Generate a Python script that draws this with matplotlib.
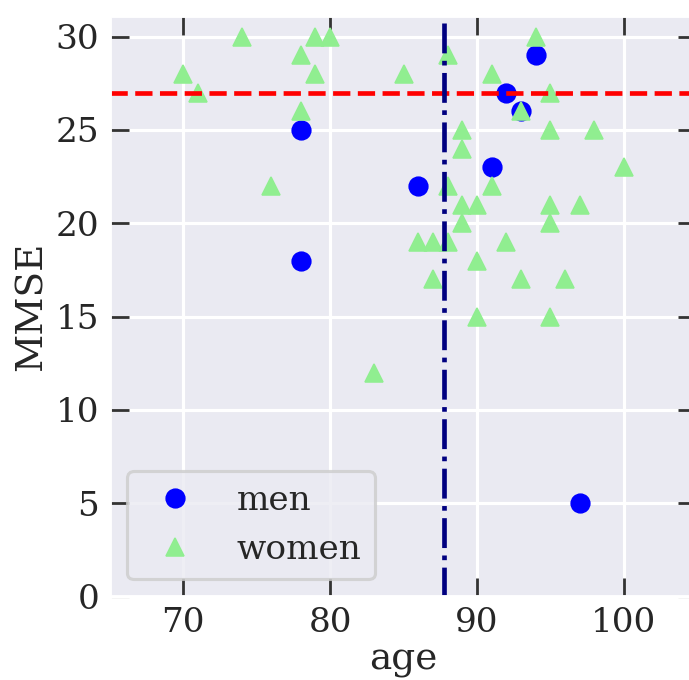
import matplotlib
matplotlib.use("Agg")
import matplotlib.pyplot as plt
import seaborn as sns

# MMSE score versus age, split by sex
men_age = [78, 78, 86, 91, 92, 93, 94, 97]
men_mmse = [25, 18, 22, 23, 27, 26, 29, 5]

women_age = [70, 71, 74, 76, 78, 78, 79, 79, 80, 83, 85, 86, 87, 87, 88, 88, 88,
             89, 89, 89, 89, 90, 90, 90, 91, 91, 92, 93, 93, 94, 95, 95, 95, 95,
             95, 96, 97, 98, 100]
women_mmse = [28, 27, 30, 22, 29, 26, 30, 28, 30, 12, 28, 19, 19, 17, 29, 22, 19,
              25, 24, 21, 20, 21, 18, 15, 28, 22, 19, 26, 17, 30, 27, 25, 21, 20,
              15, 17, 21, 25, 23]

mmse_cutoff = 27
age_mean = 87.75

x_ticks = [70, 80, 90, 100]
y_ticks = [0, 5, 10, 15, 20, 25, 30]

sns.set_theme(context="poster", style="darkgrid")
plt.rcParams["font.family"] = ["DejaVu Serif"]

fig = plt.figure(figsize=(689 / 112, 680 / 112), dpi=112)
ax = fig.add_axes([110 / 689, 1 - 596.6 / 680, 587 / 689, 580.6 / 680])

ax.plot(men_age, men_mmse, "o", color="blue", markersize=12, label="men")
ax.plot(women_age, women_mmse, "^", color="lightgreen", markersize=12, label="women")

ax.axhline(mmse_cutoff, color="red", linestyle="--", linewidth=3)
ax.axvline(age_mean, color="navy", linestyle="-.", linewidth=3)

ax.set_xlim(65, 105)
ax.set_ylim(0, 31.1)
ax.set_xticks(x_ticks)
ax.set_yticks(y_ticks)
ax.tick_params(direction="in", length=12, width=1.8, color="#333333",
               top=True, right=True, bottom=True, left=True, pad=7)
ax.tick_params(axis="both", labelsize=22, labelcolor="#262626")

ax.set_xlabel("age", fontsize=24, color="#262626", labelpad=1.5)
ax.set_ylabel("MMSE", fontsize=24, color="#262626")

ax.legend(loc="lower left", fontsize=22)

fig.savefig("out.png", dpi=112)
